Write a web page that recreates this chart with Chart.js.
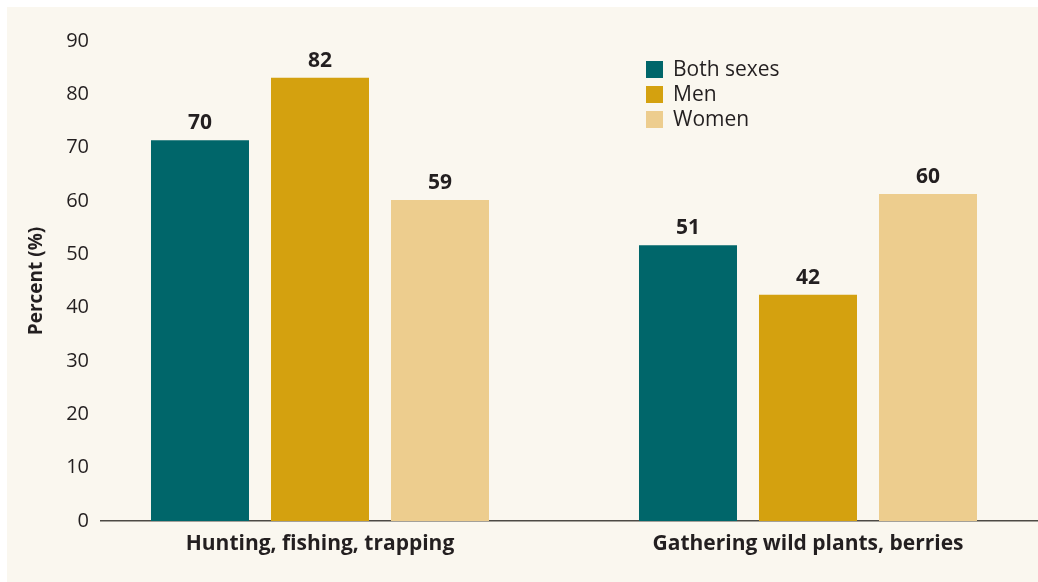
<!DOCTYPE html>
<html>
<head>
<meta charset="utf-8">
<script src="https://cdn.jsdelivr.net/npm/chart.js@4.4.1/dist/chart.umd.min.js"></script>
<style>
  html, body { margin: 0; padding: 0; background: #ffffff; overflow: hidden; }
  #wrap { position: absolute; left: 7px; top: 7px; width: 1031px; height: 575px; }
</style>
</head>
<body>
<div id="wrap"><canvas id="c" width="1031" height="575"></canvas></div>
<script>
// ---- Data ----
const categories = ["Hunting, fishing, trapping", "Gathering wild plants, berries"];
const seriesNames = ["Both sexes", "Men", "Women"];
const bothSexes = [71.4, 51.7];
const men = [83.1, 42.4];
const women = [60.2, 61.3];
const bothSexesLabels = ["70", "51"];
const menLabels = ["82", "42"];
const womenLabels = ["59", "60"];
const yTicks = [0, 10, 20, 30, 40, 50, 60, 70, 80, 90];

const colors = ["#00666a", "#d4a10f", "#edcd8e"];
const textColor = "#231f20";
const FONT = "'Open Sans', 'Noto Sans', sans-serif";

const X_MIN = -0.44876, X_MAX = 1.47132;

const seriesValues = [bothSexes, men, women];
const seriesLabels = [bothSexesLabels, menLabels, womenLabels];

const datasets = seriesNames.map((name, s) => ({
  label: name,
  data: seriesValues[s].map((v, i) => ({ x: i, y: v })),
  valueLabels: seriesLabels[s],
  backgroundColor: colors[s],
  borderWidth: 0,
  categoryPercentage: 0.7377,
  barPercentage: 0.8167
}));

const bgPlugin = {
  id: 'bg',
  beforeDraw(chart) {
    const ctx = chart.ctx;
    ctx.save();
    ctx.fillStyle = '#faf7ef';
    ctx.fillRect(0, 0, chart.width, chart.height);
    ctx.restore();
  }
};

const valueLabelPlugin = {
  id: 'valueLabels',
  afterDatasetsDraw(chart) {
    const ctx = chart.ctx;
    ctx.save();
    ctx.font = "bold 21px " + FONT;
    ctx.fillStyle = textColor;
    ctx.textAlign = 'center';
    ctx.textBaseline = 'alphabetic';
    chart.data.datasets.forEach((ds, di) => {
      const meta = chart.getDatasetMeta(di);
      meta.data.forEach((bar, i) => {
        ctx.fillText(ds.valueLabels[i], bar.x, bar.y - 11);
      });
    });
    ctx.restore();
  }
};

const legendPlugin = {
  id: 'customLegend',
  afterDraw(chart) {
    const ctx = chart.ctx;
    ctx.save();
    ctx.font = "21px " + FONT;
    ctx.textBaseline = 'middle';
    ctx.textAlign = 'left';
    chart.data.datasets.forEach((ds, i) => {
      const x = 639, y = 54 + i * 25;
      ctx.fillStyle = ds.backgroundColor;
      ctx.fillRect(x, y, 17, 17);
      ctx.fillStyle = textColor;
      ctx.fillText(ds.label, x + 27, y + 9);
    });
    ctx.restore();
  }
};

new Chart(document.getElementById('c'), {
  type: 'bar',
  data: { datasets },
  options: {
    responsive: false,
    animation: false,
    layout: { padding: { left: 0, right: 0, top: 34, bottom: 0 } },
    plugins: { legend: { display: false }, tooltip: { enabled: false } },
    scales: {
      x: {
        type: 'linear',
        offset: false,
        bounds: 'data',
        min: X_MIN,
        max: X_MAX,
        afterDataLimits(scale) { scale.min = X_MIN; scale.max = X_MAX; },
        afterBuildTicks(scale) {
          scale.ticks = categories.map((c, i) => ({ value: i }));
          scale.min = X_MIN; scale.max = X_MAX;
        },
        afterFit(scale) { scale.height = 575 - 514; },
        grid: { display: false, drawTicks: false, offset: false },
        border: { display: true, color: '#4d4a45', width: 1.5 },
        ticks: {
          autoSkip: false,
          maxRotation: 0,
          padding: 10,
          color: textColor,
          font: { family: FONT, size: 21, weight: 'bold' },
          callback: (v) => categories[v] !== undefined ? categories[v] : ''
        }
      },
      y: {
        min: 0,
        max: 90,
        afterBuildTicks(scale) { scale.ticks = yTicks.map(v => ({ value: v })); },
        afterFit(scale) { scale.width = 94; },
        grid: { display: false, drawTicks: false },
        border: { display: false },
        ticks: {
          padding: 12,
          color: textColor,
          font: { family: FONT, size: 20 }
        },
        title: {
          display: true,
          text: 'Percent (%)',
          color: textColor,
          font: { family: FONT, size: 19, weight: 'bold' },
          padding: { top: 18, bottom: 0 }
        }
      }
    }
  },
  plugins: [bgPlugin, valueLabelPlugin, legendPlugin]
});
</script>
</body>
</html>
